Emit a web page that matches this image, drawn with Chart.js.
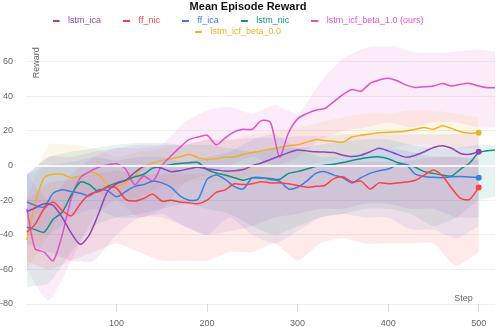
<!DOCTYPE html>
<html>
<head>
<meta charset="utf-8">
<script src="https://cdn.jsdelivr.net/npm/chart.js@4.4.1/dist/chart.umd.min.js"></script>
<style>
  html, body { margin: 0; padding: 0; background: #fff; }
  #wrap { width: 498px; height: 327px; }
</style>
</head>
<body>
<div id="wrap"><canvas id="rewardChart"></canvas></div>
<script>
// training steps where the lines were read (510/518 only used by the two runs that go on)
const steps = [1, 10, 20, 30, 40, 50, 60, 70, 80, 90, 100, 110, 120, 130, 140, 150, 160, 170, 180, 190,
  200, 210, 220, 230, 240, 250, 260, 270, 280, 290, 300, 310, 320, 330, 340, 350, 360, 370, 380, 390,
  400, 410, 420, 430, 440, 450, 460, 470, 480, 490, 500, 510, 518];

const lstmIca = [-26.5, -24.5, -22, -23, -30, -39, -45.5, -40, -28, -15, -10.5, -8.5, -4, -0.5, -0.5, -1.5, -3.5, -3, -1.8, -1,
  -2, -2.5, -3.2, -3, -2.3, 0, 1.5, 3.5, 5.5, 7.5, 9, 8.5, 8, 7.8, 7.5, 6, 5.2, 6, 8, 10,
  8.5, 6.5, 4.8, 6, 8, 10.5, 11.5, 10, 7, 6.5, 8];
const ffNic = [-38.5, -34, -25, -21, -26, -29, -22, -16.7, -15, -12.5, -13, -19.5, -20.5, -19, -16.5, -20.5, -20, -21, -21.5, -22,
  -20, -15.5, -14, -10.5, -11, -10.5, -9.3, -10, -10, -10.5, -11.5, -12.5, -12, -11.5, -7.5, -6.5, -9.5, -9, -13.5, -10,
  -10.5, -10, -9.5, -8.5, -5.5, -2.5, -6, -13, -19, -19.5, -12.7];
const ffIca = [-21, -23, -24, -16, -14, -15, -16, -17.5, -14, -14.5, -18, -15, -12, -11, -9, -10, -12.5, -17.5, -20, -19.5,
  -8, -5.5, -8, -12, -13.5, -7, -7, -8, -9, -13.5, -12.5, -9, -4.5, -3.5, -5.5, -7, -10, -7, -4.5, -3,
  -2, 0.3, 0.5, -5, -6.3, -6.8, -7, -6.5, -6.3, -6.6, -7];
const lstmNic = [-35.6, -37, -38.5, -31, -27, -17, -9.5, -11, -15, -12, -10, -8.5, -6.5, -5, -1.5, -0.5, 0.5, 1.2, 1.7, 1.8,
  -2.3, -4.3, -5.5, -7, -8.5, -7, -7.2, -7.5, -8, -4.5, -3.5, -2, -0.5, 0.2, 0.8, 1.8, 3, 4, 4.8, 5,
  4, 1.8, 0.5, -1, -3.5, -4.5, -5.5, -6, -2, 1.5, 7.5, 8.6, 9];
const lstmIcfBeta1 = [-25, -48, -50, -55, -40, -19, -7, -3.5, -1, 0.5, 1, -2, -11, -6, -9, 0, 5.5, 10.5, 15, 16.5,
  17.5, 12, 16, 19.5, 21, 21, 26, 25, 5, 19, 27, 30, 32, 33, 37, 41, 44, 43, 47.5, 49.5,
  50.5, 49, 46.5, 45.2, 45.5, 46, 47.5, 46, 47, 47.5, 46, 45, 45];
const lstmIcfBeta0 = [-43, -22, -7, -5, -5, -7, -6, -4, -5, -11, -12, -10, -6, -0.5, 1.5, 3, 4, 5, 6.5, 4.6,
  3.5, 4, 4.8, 5, 6.5, 7.5, 8.5, 9.5, 10.5, 11.5, 12, 13.5, 15, 14.5, 14, 13.5, 16.5, 17.5, 18.3, 19,
  19.2, 19.5, 20, 21, 22, 21, 23, 21.5, 19.5, 18.7, 19];

// min / max spread of each run across seeds
const bandSteps = [1, 25, 50, 75, 100, 125, 150, 175, 200, 225, 250, 275, 300, 325, 350, 375, 400, 425, 450, 475, 500, 518];
const lstmIcaLo = [-45, -50, -55, -55, -40, -30, -30, -35, -40, -38, -35, -30, -28, -25, -25, -22, -22, -25, -25, -30, -30];
const lstmIcaHi = [-5, 5, 5, 8, 10, 12, 12, 12, 15, 15, 16, 16, 17, 17, 18, 18, 18, 18, 18, 18, 18];
const ffNicLo = [-55, -60, -55, -50, -45, -50, -55, -55, -55, -50, -50, -45, -55, -45, -42, -45, -45, -45, -45, -58, -50];
const ffNicHi = [-20, -10, -8, -5, -3, -5, -5, -5, -5, -3, 0, 0, 0, 0, 2, 2, 2, 3, 5, 5, 5];
const ffIcaLo = [-35, -40, -30, -25, -30, -30, -28, -35, -40, -30, -40, -45, -38, -30, -28, -30, -30, -37, -37, -42, -35];
const ffIcaHi = [-5, 0, 2, 5, 3, 5, 5, 2, 5, 8, 15, 18, 10, 5, 5, 8, 10, 8, 5, 5, 3];
const lstmNicLo = [-70, -68, -50, -35, -30, -28, -25, -22, -25, -28, -35, -40, -35, -30, -28, -25, -25, -28, -35, -30, -20, -18];
const lstmNicHi = [-5, 5, 8, 10, 12, 13, 13, 12, 12, 10, 8, 10, 10, 12, 14, 15, 15, 12, 10, 10, 12, 12];
const lstmIcfBeta1Lo = [-60, -78, -55, -30, -20, -30, -25, -10, -5, 0, 5, 0, 5, 15, 20, 22, 25, 22, 25, 25, 22, 22];
const lstmIcfBeta1Hi = [-5, -20, -5, 5, 10, 10, 12, 25, 32, 34, 30, 35, 30, 48, 62, 68, 70, 66, 65, 66, 67, 66];
const lstmIcfBeta0Lo = [-60, -40, -20, -15, -20, -18, -12, -10, -8, -8, -5, -3, 0, 2, 5, 8, 10, 12, 12, 10, 10];
const lstmIcfBeta0Hi = [-20, 12, 12, 10, 5, 8, 10, 12, 15, 15, 18, 20, 22, 25, 28, 30, 30, 32, 32, 30, 28];

const yTicks = { min: -80, max: 69, step: 20 };
const xTicks = { min: 0, max: 518, step: 100 };

const series = [
  { name: 'lstm_ica', color: '#9146b8', values: lstmIca, lo: lstmIcaLo, hi: lstmIcaHi, dot: true },
  { name: 'ff_nic', color: '#ff4040', values: ffNic, lo: ffNicLo, hi: ffNicHi, dot: true },
  { name: 'ff_ica', color: '#3b7fe0', values: ffIca, lo: ffIcaLo, hi: ffIcaHi, dot: true },
  { name: 'lstm_nic', color: '#0f9282', values: lstmNic, lo: lstmNicLo, hi: lstmNicHi, dot: false },
  { name: 'lstm_icf_beta_1.0 (ours)', color: '#e052cc', values: lstmIcfBeta1, lo: lstmIcfBeta1Lo, hi: lstmIcfBeta1Hi, dot: false },
  { name: 'lstm_icf_beta_0.0', color: '#f2b022', values: lstmIcfBeta0, lo: lstmIcfBeta0Lo, hi: lstmIcfBeta0Hi, dot: true }
];

const FONT = "'Liberation Sans', Arial, sans-serif";
Chart.defaults.font.family = FONT;
Chart.defaults.color = '#666';

function toPoints(xs, ys) {
  return ys.map((y, i) => ({ x: xs[i], y: y }));
}
function fade(hex, a) {
  const n = parseInt(hex.slice(1), 16);
  return `rgba(${n >> 16}, ${(n >> 8) & 255}, ${n & 255}, ${a})`;
}
// short dash used as legend marker, with a little room after it
function dash(color) {
  const c = document.createElement('canvas');
  c.width = 11; c.height = 2;
  const g = c.getContext('2d');
  g.fillStyle = color;
  g.fillRect(0, 0, 7, 2);
  return c;
}

const datasets = series.map(s => ({
  label: s.name,
  data: toPoints(steps, s.values),
  borderColor: s.color,
  backgroundColor: s.color,
  borderWidth: 1.5,
  tension: 0.25,
  fill: false,
  pointRadius: ctx => (s.dot && ctx.dataIndex === s.values.length - 1) ? 3 : 0,
  pointBorderWidth: 0,
  pointHoverRadius: 0
}));

series.forEach(s => {
  datasets.push({
    label: s.name + ' min',
    data: toPoints(bandSteps, s.lo),
    borderWidth: 0,
    pointRadius: 0,
    tension: 0.2,
    fill: false
  });
  datasets.push({
    label: s.name + ' max',
    data: toPoints(bandSteps, s.hi),
    borderWidth: 0,
    pointRadius: 0,
    tension: 0.2,
    fill: '-1',
    backgroundColor: fade(s.color, 0.11)
  });
});

// axis names sit inside the plot, at the far ends of the axes
const axisNames = {
  id: 'axisNames',
  afterDraw(chart) {
    const { ctx, chartArea: a, scales } = chart;
    ctx.save();
    ctx.fillStyle = '#666';
    ctx.font = '9px ' + FONT;
    ctx.textBaseline = 'middle';
    ctx.textAlign = 'right';
    ctx.fillText('Step', scales.x.getPixelForValue(500) - 6, a.bottom - 5);
    ctx.translate(a.left + 10.5, a.top + 1);
    ctx.rotate(-Math.PI / 2);
    ctx.fillText('Reward', 0, 0);
    ctx.restore();
  }
};

new Chart(document.getElementById('rewardChart'), {
  type: 'line',
  data: { datasets },
  plugins: [axisNames],
  options: {
    responsive: true,
    maintainAspectRatio: false,
    animation: false,
    layout: { padding: { left: 0, right: 2, top: 0, bottom: -9 } },
    plugins: {
      tooltip: { enabled: false },
      title: {
        display: true,
        text: 'Mean Episode Reward',
        color: '#111',
        font: { size: 11, weight: 'bold' },
        padding: { top: 0, bottom: 1 }
      },
      legend: {
        position: 'top',
        labels: {
          usePointStyle: true,
          pointStyleWidth: 11,
          boxHeight: 7,
          padding: 2,
          font: { size: 9 },
          generateLabels() {
            return series.map((s, i) => ({
              text: s.name + '        ',
              datasetIndex: i,
              fillStyle: s.color,
              strokeStyle: s.color,
              fontColor: s.color,
              lineWidth: 0,
              pointStyle: dash(s.color),
              hidden: false
            }));
          }
        }
      }
    },
    scales: {
      x: {
        type: 'linear',
        min: xTicks.min,
        max: xTicks.max,
        afterBuildTicks: scale => { scale.ticks = scale.ticks.filter(t => t.value > 0 && t.value % xTicks.step === 0); },
        grid: { display: true, drawOnChartArea: false, drawTicks: true, tickLength: 8, color: '#dddddd' },
        border: { display: false },
        ticks: { stepSize: xTicks.step, includeBounds: false, padding: 6.6, font: { size: 9 }, color: '#666', maxRotation: 0 }
      },
      y: {
        min: yTicks.min,
        max: yTicks.max,
        afterFit: scale => { scale.width = 26; },
        grid: {
          z: 1,
          drawTicks: false,
          color: ctx => ctx.tick && ctx.tick.value === 0 ? 'rgba(255,255,255,0.85)' : 'rgba(0,0,0,0.06)',
          lineWidth: ctx => ctx.tick && ctx.tick.value === 0 ? 2 : 1
        },
        border: { display: false },
        ticks: { stepSize: yTicks.step, includeBounds: false, padding: 13, font: { size: 9 }, color: '#666' }
      }
    }
  }
});
</script>
</body>
</html>
